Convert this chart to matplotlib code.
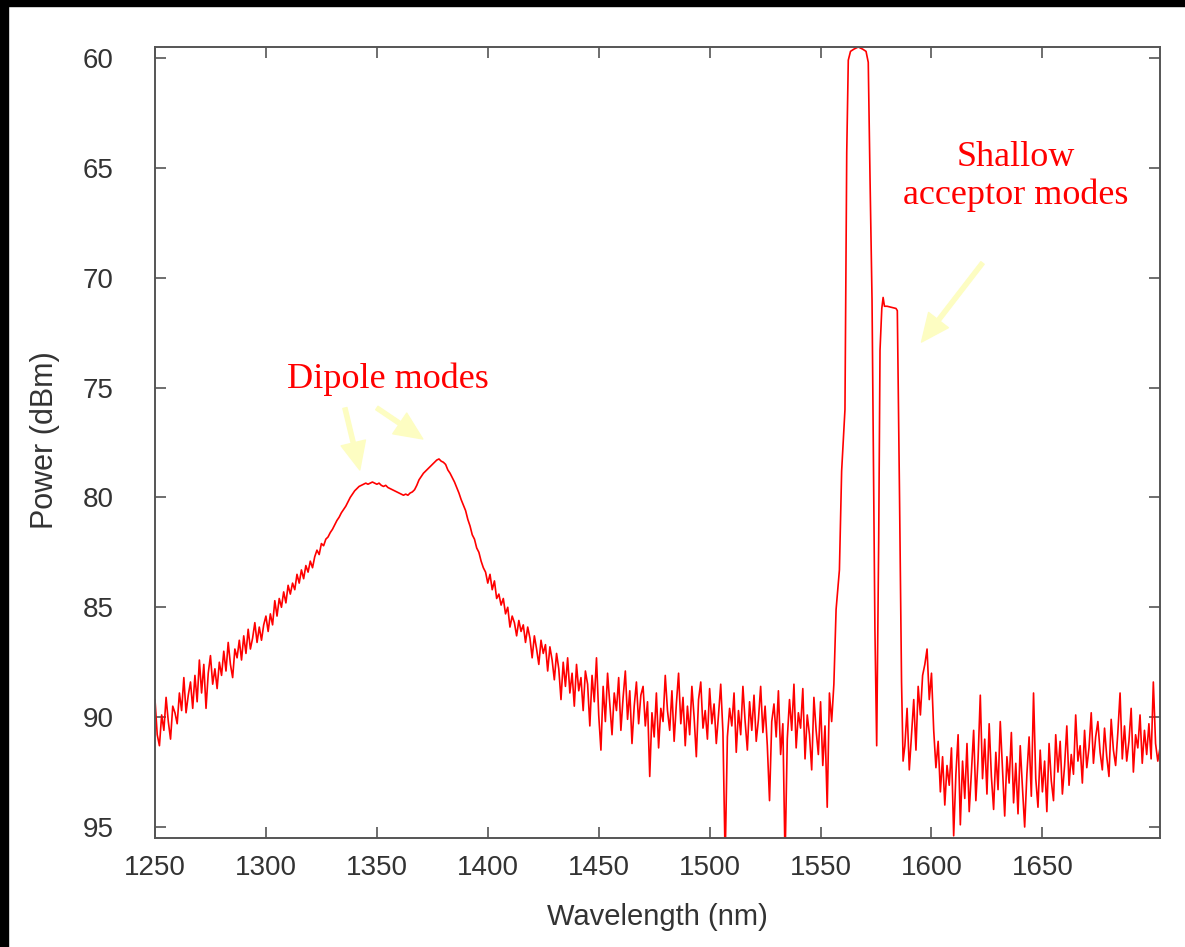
import numpy as np
import matplotlib
matplotlib.use('Agg')
import matplotlib.pyplot as plt
from matplotlib.patches import Rectangle

# spectrum, 1 nm steps before the lasing peaks
wl_a = np.arange(1250, 1557)
power_a = [
    89.2, 90.8, 91.3, 89.9, 90.6, 89.1, 90.2, 91.0, 89.5, 89.8,
    90.3, 88.9, 89.7, 88.2, 89.8, 89.0, 88.4, 89.6, 88.1, 89.3,
    87.4, 88.9, 87.6, 89.6, 88.0, 87.2, 88.5, 87.8, 88.7, 87.5,
    88.1, 87.0, 87.9, 86.6, 87.6, 88.2, 86.9, 87.3, 86.5, 87.4,
    86.3, 87.1, 86.0, 86.9, 86.4, 85.7, 86.6, 85.9, 86.5, 85.8,
    85.4, 86.1, 85.3, 85.8, 84.7, 85.4, 84.6, 85.0, 84.3, 84.8,
    84.0, 84.4, 83.9, 84.2, 83.5, 83.9, 83.3, 83.7, 83.1, 83.4,
    82.9, 83.2, 82.7, 82.4, 82.6, 82.1, 82.2, 81.9, 81.8, 81.6,
    81.45, 81.25, 81.05, 80.9, 80.7, 80.55, 80.4, 80.2, 80.0, 79.85,
    79.7, 79.6, 79.5, 79.45, 79.4, 79.35, 79.4, 79.35, 79.3, 79.35,
    79.4, 79.35, 79.45, 79.5, 79.45, 79.55, 79.6, 79.65, 79.7, 79.75,
    79.8, 79.85, 79.9, 79.85, 79.9, 79.8, 79.75, 79.65, 79.45, 79.2,
    79.05, 78.9, 78.8, 78.7, 78.6, 78.5, 78.4, 78.3, 78.25, 78.35,
    78.4, 78.5, 78.75, 78.9, 79.1, 79.3, 79.55, 79.8, 80.1, 80.35,
    80.6, 81.0, 81.3, 81.7, 81.9, 82.3, 82.5, 82.9, 83.2, 83.4,
    83.9, 83.5, 84.2, 83.8, 84.6, 84.4, 84.9, 84.6, 85.3, 85.0,
    85.9, 85.4, 85.7, 86.3, 85.6, 86.1, 85.8, 86.6, 85.9, 86.4,
    87.3, 86.3, 86.9, 87.6, 86.5, 87.1, 86.7, 87.9, 86.8, 87.4,
    88.3, 87.1, 87.8, 89.2, 87.5, 88.6, 87.3, 88.9, 88.0, 89.5,
    87.6, 88.8, 88.2, 89.7, 87.9, 88.5, 90.4, 88.1, 89.3, 87.3,
    89.9, 91.5, 88.6, 90.2, 88.0, 89.4, 90.8, 88.9, 89.7, 88.2,
    90.6, 89.1, 87.9, 90.1, 88.8, 91.2, 89.5, 88.4, 90.3, 89.0,
    88.6, 90.4, 89.3, 92.7, 89.8, 90.9, 88.9, 91.4, 89.6, 90.2,
    88.1, 89.7, 90.6, 88.8, 91.1, 89.4, 88.0, 90.3, 89.1, 91.3,
    89.5, 90.8, 88.6, 90.0, 91.8, 89.2, 88.4, 90.5, 89.7, 91.0,
    88.7, 90.3, 89.4, 91.2, 89.9, 88.5, 90.7, 96.5, 90.9, 89.6,
    90.4, 88.9, 91.6, 89.7, 90.8, 88.6, 90.2, 91.5, 89.3, 90.6,
    89.0, 91.1, 90.1, 88.6, 90.7, 89.5, 91.3, 93.8, 90.2, 89.4,
    90.9, 88.8, 91.7, 90.3, 96.5, 91.0, 89.2, 90.6, 88.5, 91.4,
    89.8, 90.5, 88.7, 91.9, 89.9, 90.8, 92.4, 89.1, 90.6, 91.7,
    89.3, 92.2, 90.4, 94.1, 88.9, 90.2, 88.5,
]

# the two lasing peaks, read point by point
wl_b = [1557.0, 1558.5, 1559.5, 1561.0, 1561.8, 1562.5, 1563.5, 1565.0,
        1567.0, 1569.0, 1570.5, 1571.5, 1572.3, 1573.2, 1574.5, 1575.3,
        1576.2, 1576.8, 1577.6, 1578.2, 1578.8, 1580.0, 1582.0, 1584.0,
        1584.6, 1585.6, 1586.5, 1587.2]
power_b = [85.1, 83.3, 78.8, 76.0, 64.3, 60.1, 59.7, 59.6,
           59.5, 59.6, 59.7, 60.2, 65.5, 71.0, 86.0, 91.3,
           82.0, 73.3, 71.4, 70.9, 71.3, 71.3, 71.35, 71.4,
           71.5, 80.0, 88.4, 92.0]

wl_c = np.arange(1588, 1704)
power_c = [
    91.3, 89.6, 92.4, 90.8, 89.2, 91.5, 88.6, 89.9, 88.1, 87.6,
    86.9, 89.2, 88.0, 90.6, 92.3, 91.1, 93.4, 91.8, 94.0, 92.2,
    93.1, 91.4, 95.4, 92.6, 90.8, 94.9, 92.0, 93.7, 91.2, 94.3,
    92.5, 90.6, 93.8, 91.9, 89.0, 92.8, 91.0, 93.5, 90.3, 92.7,
    94.2, 91.6, 93.3, 90.2, 92.4, 94.5, 91.8, 93.0, 90.7, 93.9,
    92.1, 94.4, 91.3, 93.2, 95.0, 92.6, 90.9, 93.6, 88.9, 92.8,
    94.1, 91.5, 93.4, 92.0, 94.3, 91.2, 92.9, 93.8, 90.8, 92.5,
    91.1, 93.5, 92.2, 90.4, 93.1, 91.7, 92.6, 89.9, 92.0, 91.3,
    93.0, 90.6, 92.3, 91.4, 89.8, 92.1, 90.9, 90.2, 91.6, 92.4,
    90.5, 91.8, 92.7, 90.1, 91.5, 92.2, 90.7, 88.9, 91.9, 90.4,
    92.0, 91.1, 89.6, 92.5, 90.8, 91.4, 89.9, 92.1, 90.6, 91.7,
    90.3, 91.9, 88.4, 91.2, 92.0, 91.4,
]

wavelength = np.concatenate([wl_a, wl_b, wl_c])
power = np.concatenate([power_a, power_b, power_c])

x_ticks = list(range(1250, 1651, 50))
y_ticks = list(range(60, 96, 5))

fig = plt.figure(figsize=(11.85, 9.47), dpi=100)
ax = fig.add_axes([0.1308, 0.1151, 0.8481, 0.8353])

ax.plot(wavelength, power, color='#ff0000', lw=1.2)

ax.set_xlim(1250, 1703)
ax.set_ylim(95.5, 59.5)
ax.set_xticks(x_ticks)
ax.set_yticks(y_ticks)

grey = '#555555'
for s in ax.spines.values():
    s.set_color(grey)
    s.set_linewidth(1.4)
ax.tick_params(axis='both', direction='in', length=8, width=1.2, color=grey,
               top=True, right=True, labelsize=20, labelcolor='#333333')
ax.tick_params(axis='y', pad=30)
ax.tick_params(axis='x', pad=12)
for lab in ax.get_xticklabels() + ax.get_yticklabels():
    lab.set_family('Liberation Sans')

ax.set_xlabel('Wavelength (nm)', fontsize=21, family='Liberation Sans', color='#333333')
ax.set_ylabel('Power (dBm)', fontsize=22, family='Liberation Sans', color='#333333')
ax.xaxis.label.set_va('center')
ax.yaxis.label.set_va('center')
ax.xaxis.set_label_coords(0.5, -0.10)
ax.yaxis.set_label_coords(-0.1095, 0.503)

# annotations
ax.text(1355.0, 74.6, 'Dipole modes', color='#ff0000', fontsize=26,
        family='Liberation Serif', ha='center', va='center')
ax.text(1637.8, 65.4, 'Shallow\nacceptor modes', color='#ff0000', fontsize=26,
        family='Liberation Serif', ha='center', va='center', linespacing=1.2)

arrow = dict(facecolor='#fdfdc2', edgecolor='#fdfdc2', width=3, headwidth=18, headlength=20)
ax.annotate('', xy=(1342.3, 78.75), xytext=(1335.6, 75.93), arrowprops=arrow)
ax.annotate('', xy=(1370.7, 77.34), xytext=(1350.0, 75.93), arrowprops=arrow)
ax.annotate('', xy=(1595.5, 72.93), xytext=(1623.0, 69.33), arrowprops=arrow)

# dark frame at the left and top of the picture
fig.patches.append(Rectangle((0, 0), 8 / 1185, 1, transform=fig.transFigure,
                             color='black', zorder=10))
fig.patches.append(Rectangle((0, 1 - 6 / 947), 1, 6 / 947, transform=fig.transFigure,
                             color='black', zorder=10))

fig.savefig('out.png', dpi=100)
